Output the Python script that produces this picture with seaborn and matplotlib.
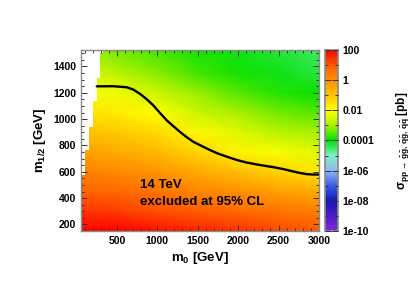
import numpy as np
import seaborn as sns
import matplotlib
matplotlib.use("Agg")
import matplotlib.pyplot as plt
from matplotlib.colors import LinearSegmentedColormap, Normalize
from matplotlib.ticker import MultipleLocator

# grid of log10(sigma / pb)
m0_grid = [50, 500, 1000, 1500, 2000, 2500, 3000]
m12_grid = [150, 300, 450, 600, 750, 900, 1050, 1200, 1350, 1530]
log_sigma = [
    # m0 = 50,  500, 1000, 1500, 2000, 2500, 3000
    [2.1, 2.0, 1.8, 1.6, 1.4, 1.2, 1.0],       # m12 = 150
    [1.4, 1.3, 1.1, 0.9, 0.7, 0.5, 0.3],       # 300
    [0.8, 0.7, 0.5, 0.2, 0.0, -0.3, -0.5],     # 450
    [0.3, 0.1, -0.1, -0.5, -0.9, -1.3, -1.6],  # 600
    [-0.3, -0.5, -0.8, -1.3, -1.8, -2.1, -2.4],  # 750
    [-0.9, -1.1, -1.4, -1.9, -2.4, -2.8, -3.0],  # 900
    [-1.5, -1.7, -2.0, -2.6, -3.0, -3.3, -3.5],  # 1050
    [-2.0, -2.2, -2.6, -3.1, -3.5, -3.8, -4.0],  # 1200
    [-2.5, -2.8, -3.2, -3.6, -3.9, -4.1, -4.3],  # 1350
    [-3.0, -3.3, -3.6, -3.9, -4.1, -4.3, -4.5],  # 1530
]

# region without valid points (left staircase)
nolsp_m12_edges = [575, 763, 937, 1141, 1315, 1500, 1525]
nolsp_m0 = [105, 157, 207, 248, 290, 330]

# 95% CL exclusion line at 14 TeV
excl_m0 = [250, 450, 620, 700, 785, 870, 950, 1030, 1115, 1200, 1280, 1360, 1444,
           1550, 1651, 1750, 1857, 1980, 2105, 2270, 2435, 2560, 2682, 2770, 2848, 2920, 3000]
excl_m12 = [1249, 1250, 1242, 1225, 1192, 1150, 1104, 1048, 991, 945, 903, 864, 828,
            795, 765, 738, 715, 690, 670, 651, 635, 620, 602, 590, 582, 579, 579]

cbar_ticks = [-10, -8, -6, -4, -2, 0, 2]
cbar_labels = ["1e-10", "1e-08", "1e-06", "0.0001", "0.01", "1", "100"]

sns.set_theme(style="ticks")
plt.rcParams["font.family"] = ["Liberation Sans", "DejaVu Sans"]
plt.rcParams["text.color"] = "black"
plt.rcParams["axes.labelcolor"] = "black"
plt.rcParams["mathtext.fontset"] = "custom"
plt.rcParams["mathtext.rm"] = "Liberation Sans"
plt.rcParams["mathtext.it"] = "Liberation Sans:italic"
plt.rcParams["mathtext.bf"] = "Liberation Sans:bold"

cmap = LinearSegmentedColormap.from_list("xsec", [
    (0.0, "#8424d8"), (1 / 6, "#1414b8"), (0.25, "#3a5ee6"), (1 / 3, "#8cb8f2"),
    (5 / 12, "#7ff0c8"), (0.5, "#00e000"), (7 / 12, "#a8f000"), (2 / 3, "#ffff00"),
    (0.75, "#ffc400"), (5 / 6, "#ff9000"), (11 / 12, "#ff5a00"), (1.0, "#ff0000")])
norm = Normalize(-10, 2)

fig = plt.figure(figsize=(4.19, 2.93), dpi=100)
ax = fig.add_axes([0.1933, 0.2116, 0.568, 0.6178])
cax = fig.add_axes([0.7764, 0.2116, 0.0303, 0.6178])

X, Y = np.meshgrid(m0_grid, m12_grid)
mesh = ax.pcolormesh(X, Y, np.array(log_sigma), shading="gouraud", cmap=cmap, norm=norm,
                     rasterized=True)
ax.stairs(nolsp_m0, nolsp_m12_edges, orientation="horizontal", baseline=0, fill=True,
          color="white", zorder=2)
sns.lineplot(x=excl_m0, y=excl_m12, sort=False, color="black", lw=1.7, ax=ax, zorder=3)

ax.text(785, 496, "14 TeV", fontsize=9.5, fontweight="bold", va="center", color="black")
ax.text(785, 372, "excluded at 95% CL", fontsize=9.5, fontweight="bold", va="center",
        color="black")

ax.set_xlim(55, 3000)
ax.set_ylim(150, 1525)
ax.set_axisbelow(False)
ax.xaxis.set_major_locator(MultipleLocator(500))
ax.xaxis.set_minor_locator(MultipleLocator(100))
ax.yaxis.set_major_locator(MultipleLocator(200))
ax.yaxis.set_minor_locator(MultipleLocator(50))
for a in (ax, cax):
    a.tick_params(which="both", direction="in", colors="#333333", labelcolor="black",
                  labelsize=7.5, width=0.7)
    a.tick_params(which="major", length=4)
    a.tick_params(which="minor", length=2)
    for s in a.spines.values():
        s.set_color("#8a8a8a")
        s.set_linewidth(1.0)
        s.set_zorder(5)
ax.tick_params(which="both", top=True, right=True)
for lab in ax.get_xticklabels() + ax.get_yticklabels():
    lab.set_fontweight("bold")
ax.set_xlabel(r"$\mathbf{m_0}$ [GeV]", fontsize=9.5, fontweight="bold", labelpad=3)
ax.set_ylabel(r"$\mathbf{m_{1/2}}$ [GeV]", fontsize=9.5, fontweight="bold", labelpad=4)

cb = fig.colorbar(mesh, cax=cax, ticks=cbar_ticks)
cb.ax.set_axisbelow(False)
cb.ax.set_yticklabels(cbar_labels, fontweight="bold")
cb.ax.yaxis.set_minor_locator(MultipleLocator(1))
cb.ax.tick_params(which="both", left=True, right=True, direction="in")
cb.outline.set_edgecolor("#8a8a8a")
cb.set_label(r"$\mathbf{\sigma_{pp\,\rightarrow\,\tilde{g}\tilde{g},\,\tilde{q}\tilde{g},\,\tilde{q}\tilde{q}}}$ [pb]",
             fontsize=8.5, fontweight="bold", rotation=90, labelpad=14)

fig.savefig("out.png", dpi=100)
